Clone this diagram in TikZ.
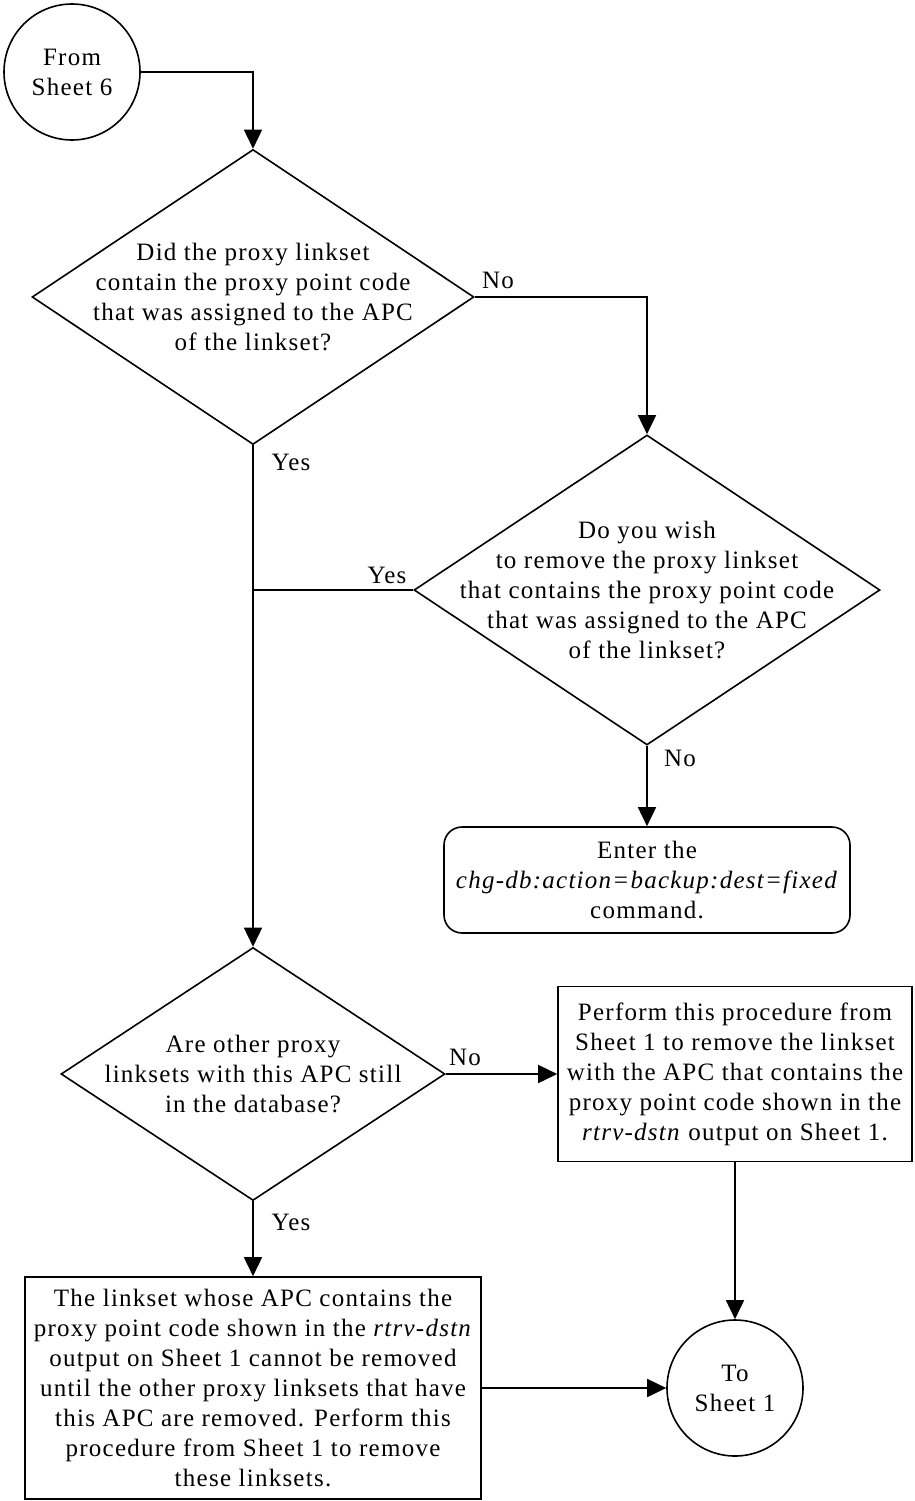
\documentclass[tikz,border=0pt]{standalone}
\usepackage{fontspec}
\setmainfont{Liberation Serif}[LetterSpace=5]
\usetikzlibrary{shapes.geometric,arrows.meta}

\begin{document}
\begin{tikzpicture}[x=1pt, y=-1pt, line width=1.6pt,
  font=\fontsize{25}{30}\selectfont,
  conn/.style={circle, draw, minimum size=136pt, inner sep=0pt, align=center},
  decision/.style={diamond, draw, inner sep=0pt},
  dtext/.style={align=center, inner sep=0pt},
  stepbox/.style={rectangle, draw, align=center, inner sep=0pt},
  cmdbox/.style={rectangle, draw, rounded corners=18pt, align=center, inner sep=0pt},
  arr/.style={-{Triangle[length=19pt,width=18pt]}},
  lbl/.style={inner sep=0pt}]
\useasboundingbox (0,0) rectangle (915,1501);

% Off-page connectors
\node[conn] (from) at (72,72) {From\\Sheet 6};
\node[conn] (to) at (735,1388) {To\\Sheet 1};

% Decisions
\node[decision, minimum width=442pt, minimum height=295pt] (d1) at (253,297) {};
\node[dtext] (t1) at (d1) {Did the proxy linkset\\contain the proxy point code\\that was assigned to the APC\\of the linkset?};

\node[decision, minimum width=466pt, minimum height=310pt] (d2) at (647,590) {};
\node[dtext] (t2) at (d2) {Do you wish\\to remove the proxy linkset\\that contains the proxy point code\\that was assigned to the APC\\of the linkset?};

\node[decision, minimum width=384pt, minimum height=253pt] (d3) at (253,1074) {};
\node[dtext] (t3) at (d3) {Are other proxy\\linksets with this APC still\\in the database?};

% Boxes
\node[cmdbox, minimum width=406pt, minimum height=106pt] (cmd) at (647,880)
  {Enter the\\\textit{chg-db:action=backup:dest=fixed}\\command.};
\node[stepbox, minimum width=354pt, minimum height=175pt] (perf) at (735,1074)
  {Perform this procedure from\\Sheet 1 to remove the linkset\\with the APC that contains the\\proxy point code shown in the\\\textit{rtrv-dstn} output on Sheet 1.};
\node[stepbox, minimum width=456pt, minimum height=222pt] (fin) at (253,1388)
  {The linkset whose APC contains the\\proxy point code shown in the \textit{rtrv-dstn}\\output on Sheet 1 cannot be removed\\until the other proxy linksets that have\\this APC are removed. Perform this\\procedure from Sheet 1 to remove\\these linksets.};

% Connectors
\draw[arr] (from.east) -| (d1.north);
\draw[arr] (d1.east) -| (d2.north);
\draw[arr] (d1.south) -- (d3.north);
\coordinate (j1) at (d1.south |- d2.west);
\draw (d2.west) -- (j1);
\draw[arr] (d2.south) -- (cmd.north);
\draw[arr] (d3.east) -- (perf.west);
\draw[arr] (d3.south) -- (fin.north);
\draw[arr] (perf.south) -- (to.north);
\draw[arr] (fin.east) -- (to.west);

% Branch labels
\node[lbl] (no1) at (498,280) {No};
\node[lbl] (yes1) at (291,462) {Yes};
\node[lbl] (yes2) at (387,575) {Yes};
\node[lbl] (no2) at (680,758) {No};
\node[lbl] (no3) at (465,1057) {No};
\node[lbl] (yes3) at (291,1222) {Yes};
\end{tikzpicture}
\end{document}
